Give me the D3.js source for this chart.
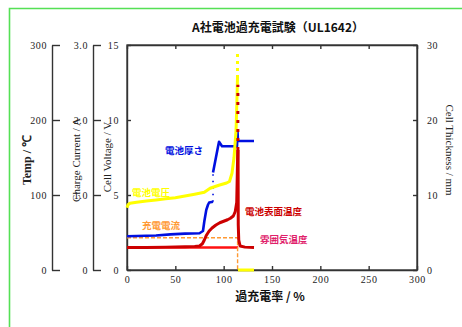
<!DOCTYPE html>
<html><head><meta charset="utf-8">
<script src="https://cdn.jsdelivr.net/npm/d3@7"></script>
<style>html,body{margin:0;padding:0;background:#fff;}svg{display:block;}</style>
</head><body><svg id="c" width="462" height="327"></svg>
<script>
// ---- tick labels ----
const xTicks = [0, 50, 100, 150, 200, 250, 300];
const tempTicks = [0, 100, 200, 300];
const currentTicks = [0, 1, 2, 3];
const voltageTicks = [0, 5, 10, 15];
const thickTicks = [0, 10, 20, 30];

// ---- series (x = overcharge rate %) ----
const voltageX = [0, 1, 3, 10, 20, 30, 40, 50, 60, 70, 80, 86, 95, 103, 106, 108.6, 110.7, 112.8, 113.8, 114.3];
const voltageV = [4.15, 4.35, 4.45, 4.52, 4.6, 4.67, 4.75, 4.82, 4.93, 5.05, 5.18, 5.45, 5.65, 5.8, 5.9, 6.45, 7.5, 9.3, 11.5, 12.8];
const voltageTopX = [114.3, 114.3];
const voltageTopV = [12.8, 14.5];
const voltageAfterX = [114.8, 131.4];
const voltageAfterV = [0, 0];

const thickX = [0, 30, 45, 60, 75, 78.6, 80, 82, 83.8, 85, 89];
const thickV = [4.5, 4.6, 4.75, 4.85, 4.9, 5.2, 6.5, 8, 8.7, 9.0, 9.1];
const thickGapX = [89, 89];
const thickGapV = [9.1, 13.0];
const thick2X = [89, 94.1, 95.2, 98.3, 113.8, 114.3, 114.8, 131.4];
const thick2V = [13.0, 16.4, 17.1, 16.5, 16.5, 18.6, 17.2, 17.2];

const currentX = [0, 114.4, 114.4];
const currentA = [0.43, 0.43, 0];

const ambientX = [0, 115];
const ambientT = [30, 30];

const surfX = [0, 20, 40, 60, 70, 75, 78, 80, 82, 85, 88, 92, 96, 100, 104, 107, 110, 112, 113.5, 114.6];
const surfT = [30, 30, 30.5, 31, 31.5, 32, 35, 40, 46, 52, 56, 60, 63, 65, 67, 69, 72, 78, 90, 160];
const surfSpikeX = [114.7, 114.7];
const surfSpikeT = [160, 247];
const surfDownX = [114.9, 115.1, 115.6, 117, 122, 131.4];
const surfDownT = [160, 60, 40, 32, 30.5, 30];

const seriesLabels = ["電池厚さ", "電池電圧", "充電電流", "電池表面温度", "雰囲気温度"];

// ---- drawing ----
const svg = d3.select("#c");
const L = 127, R = 417, T = 45, B = 270;
const x = d3.scaleLinear([0, 300], [L, R]);
const yV = d3.scaleLinear([0, 15], [B, T]);
const yT = d3.scaleLinear([0, 300], [B, T]);
const yI = d3.scaleLinear([0, 3], [B, T]);
const yTh = d3.scaleLinear([0, 30], [B, T]);

// green frame
svg.append("path").attr("d", "M9.5,327 V8.5 H462").attr("fill", "none")
  .attr("stroke", "#55e055").attr("stroke-width", 1.6);

// title
svg.append("text").attr("x", 278).attr("y", 32).attr("text-anchor", "middle")
  .attr("font-family", "Noto Sans CJK JP").attr("font-weight", "bold").attr("font-size", 12)
  .attr("fill", "#111").text("A社電池過充電試験（UL1642）");

const tickFont = g => g.selectAll("text").attr("font-family", "Liberation Serif")
  .attr("font-size", 10).attr("fill", "#222").attr("letter-spacing", 0.6);
const styleAxis = g => { g.select(".domain").attr("stroke", "#333").attr("stroke-width", 1.4);
  g.selectAll(".tick line").attr("stroke", "#333").attr("stroke-width", 1.4); tickFont(g); };

// plot frame
svg.append("rect").attr("x", L).attr("y", T).attr("width", R - L).attr("height", B - T)
  .attr("fill", "none").attr("stroke", "#444").attr("stroke-width", 1.4);

// Temp axis
svg.append("g").attr("transform", "translate(52,0)")
  .call(d3.axisLeft(yT).tickValues(tempTicks).tickSizeInner(-8).tickSizeOuter(0).tickPadding(5))
  .call(styleAxis);
// Current axis
svg.append("g").attr("transform", "translate(93,0)")
  .call(d3.axisLeft(yI).tickValues(currentTicks).tickSizeInner(-8).tickSizeOuter(0).tickPadding(5)
    .tickFormat(d => d === 0 ? "0" : d.toFixed(1)))
  .call(styleAxis);
// Voltage axis
svg.append("g").attr("transform", `translate(${L},0)`)
  .call(d3.axisLeft(yV).tickValues(voltageTicks).tickSizeInner(-4).tickSizeOuter(0).tickPadding(8))
  .call(styleAxis);
// Thickness axis
svg.append("g").attr("transform", `translate(${R},0)`)
  .call(d3.axisRight(yTh).tickValues(thickTicks).tickSizeInner(-4).tickSizeOuter(0).tickPadding(10))
  .call(styleAxis);
// bottom axis
svg.append("g").attr("transform", `translate(0,${B})`)
  .call(d3.axisBottom(x).tickValues(xTicks).tickSizeInner(-4).tickSizeOuter(0).tickPadding(6))
  .call(styleAxis);
// top ticks
svg.append("g").attr("transform", `translate(0,${T})`)
  .call(d3.axisTop(x).tickValues(xTicks).tickSizeInner(-4).tickSizeOuter(0).tickFormat(""))
  .call(styleAxis);

// axis titles
const serifTitle = (txt, cx, cy, rot, size, weight) =>
  svg.append("text").attr("transform", `translate(${cx},${cy}) rotate(${rot})`)
    .attr("text-anchor", "middle").attr("dominant-baseline", "middle")
    .attr("font-family", "Liberation Serif").attr("font-size", size).attr("font-weight", weight)
    .attr("fill", "#222").text(txt);
serifTitle("Temp  /  ℃", 28, 160, -90, 12, "bold");
serifTitle("Charge Current / A", 77, 160, -90, 11, "normal");
serifTitle("Cell Voltage / V", 108, 157, -90, 11, "normal");
serifTitle("Cell Thickness / mm", 449, 150, 90, 11, "normal");

svg.append("text").attr("x", 270).attr("y", 301).attr("text-anchor", "middle")
  .attr("font-family", "Noto Sans CJK JP").attr("font-weight", "bold").attr("font-size", 12)
  .attr("fill", "#111").text("過充電率 / %");

// series
const line = (xs, ys, ysc) => d3.line().x((d, i) => x(xs[i])).y((d, i) => ysc(ys[i]))(xs);
const draw = (xs, ys, ysc, color, w, dash) => svg.append("path").attr("d", line(xs, ys, ysc))
  .attr("fill", "none").attr("stroke", color).attr("stroke-width", w)
  .attr("stroke-dasharray", dash || null).attr("stroke-linejoin", "round");

draw(ambientX, ambientT, yT, "#ff1010", 2.6);
draw(currentX, currentA, yI, "#ff9933", 1.4, "4,2");
draw(thickX, thickV, yTh, "#0010e0", 2.6);
draw(thickGapX, thickGapV, yTh, "#0010e0", 1.6, "1.5,5");
draw(thick2X, thick2V, yTh, "#0010e0", 2.6);
draw(voltageX, voltageV, yV, "#ffff00", 3);
draw(voltageTopX, voltageTopV, yV, "#ffff00", 3, "3,4");
draw(voltageAfterX, voltageAfterV, yV, "#ffff00", 3);
draw(surfX, surfT, yT, "#cc0000", 3);
draw(surfSpikeX, surfSpikeT, yT, "#cc0000", 3, "3,6");
draw(surfDownX, surfDownT, yT, "#cc0000", 3);

// series labels
const labelPos = [[165, 154, "#0010e0"], [132, 196, "#ffff00"], [142, 229, "#ff9933"], [245, 215, "#cc0000"], [260, 243, "#e0206a"]];
seriesLabels.forEach((t, i) => {
  svg.append("text").attr("x", labelPos[i][0]).attr("y", labelPos[i][1])
    .attr("font-family", "Noto Sans CJK JP").attr("font-weight", "bold").attr("font-size", 9.5)
    .attr("fill", labelPos[i][2]).text(t);
});
</script></body></html>
